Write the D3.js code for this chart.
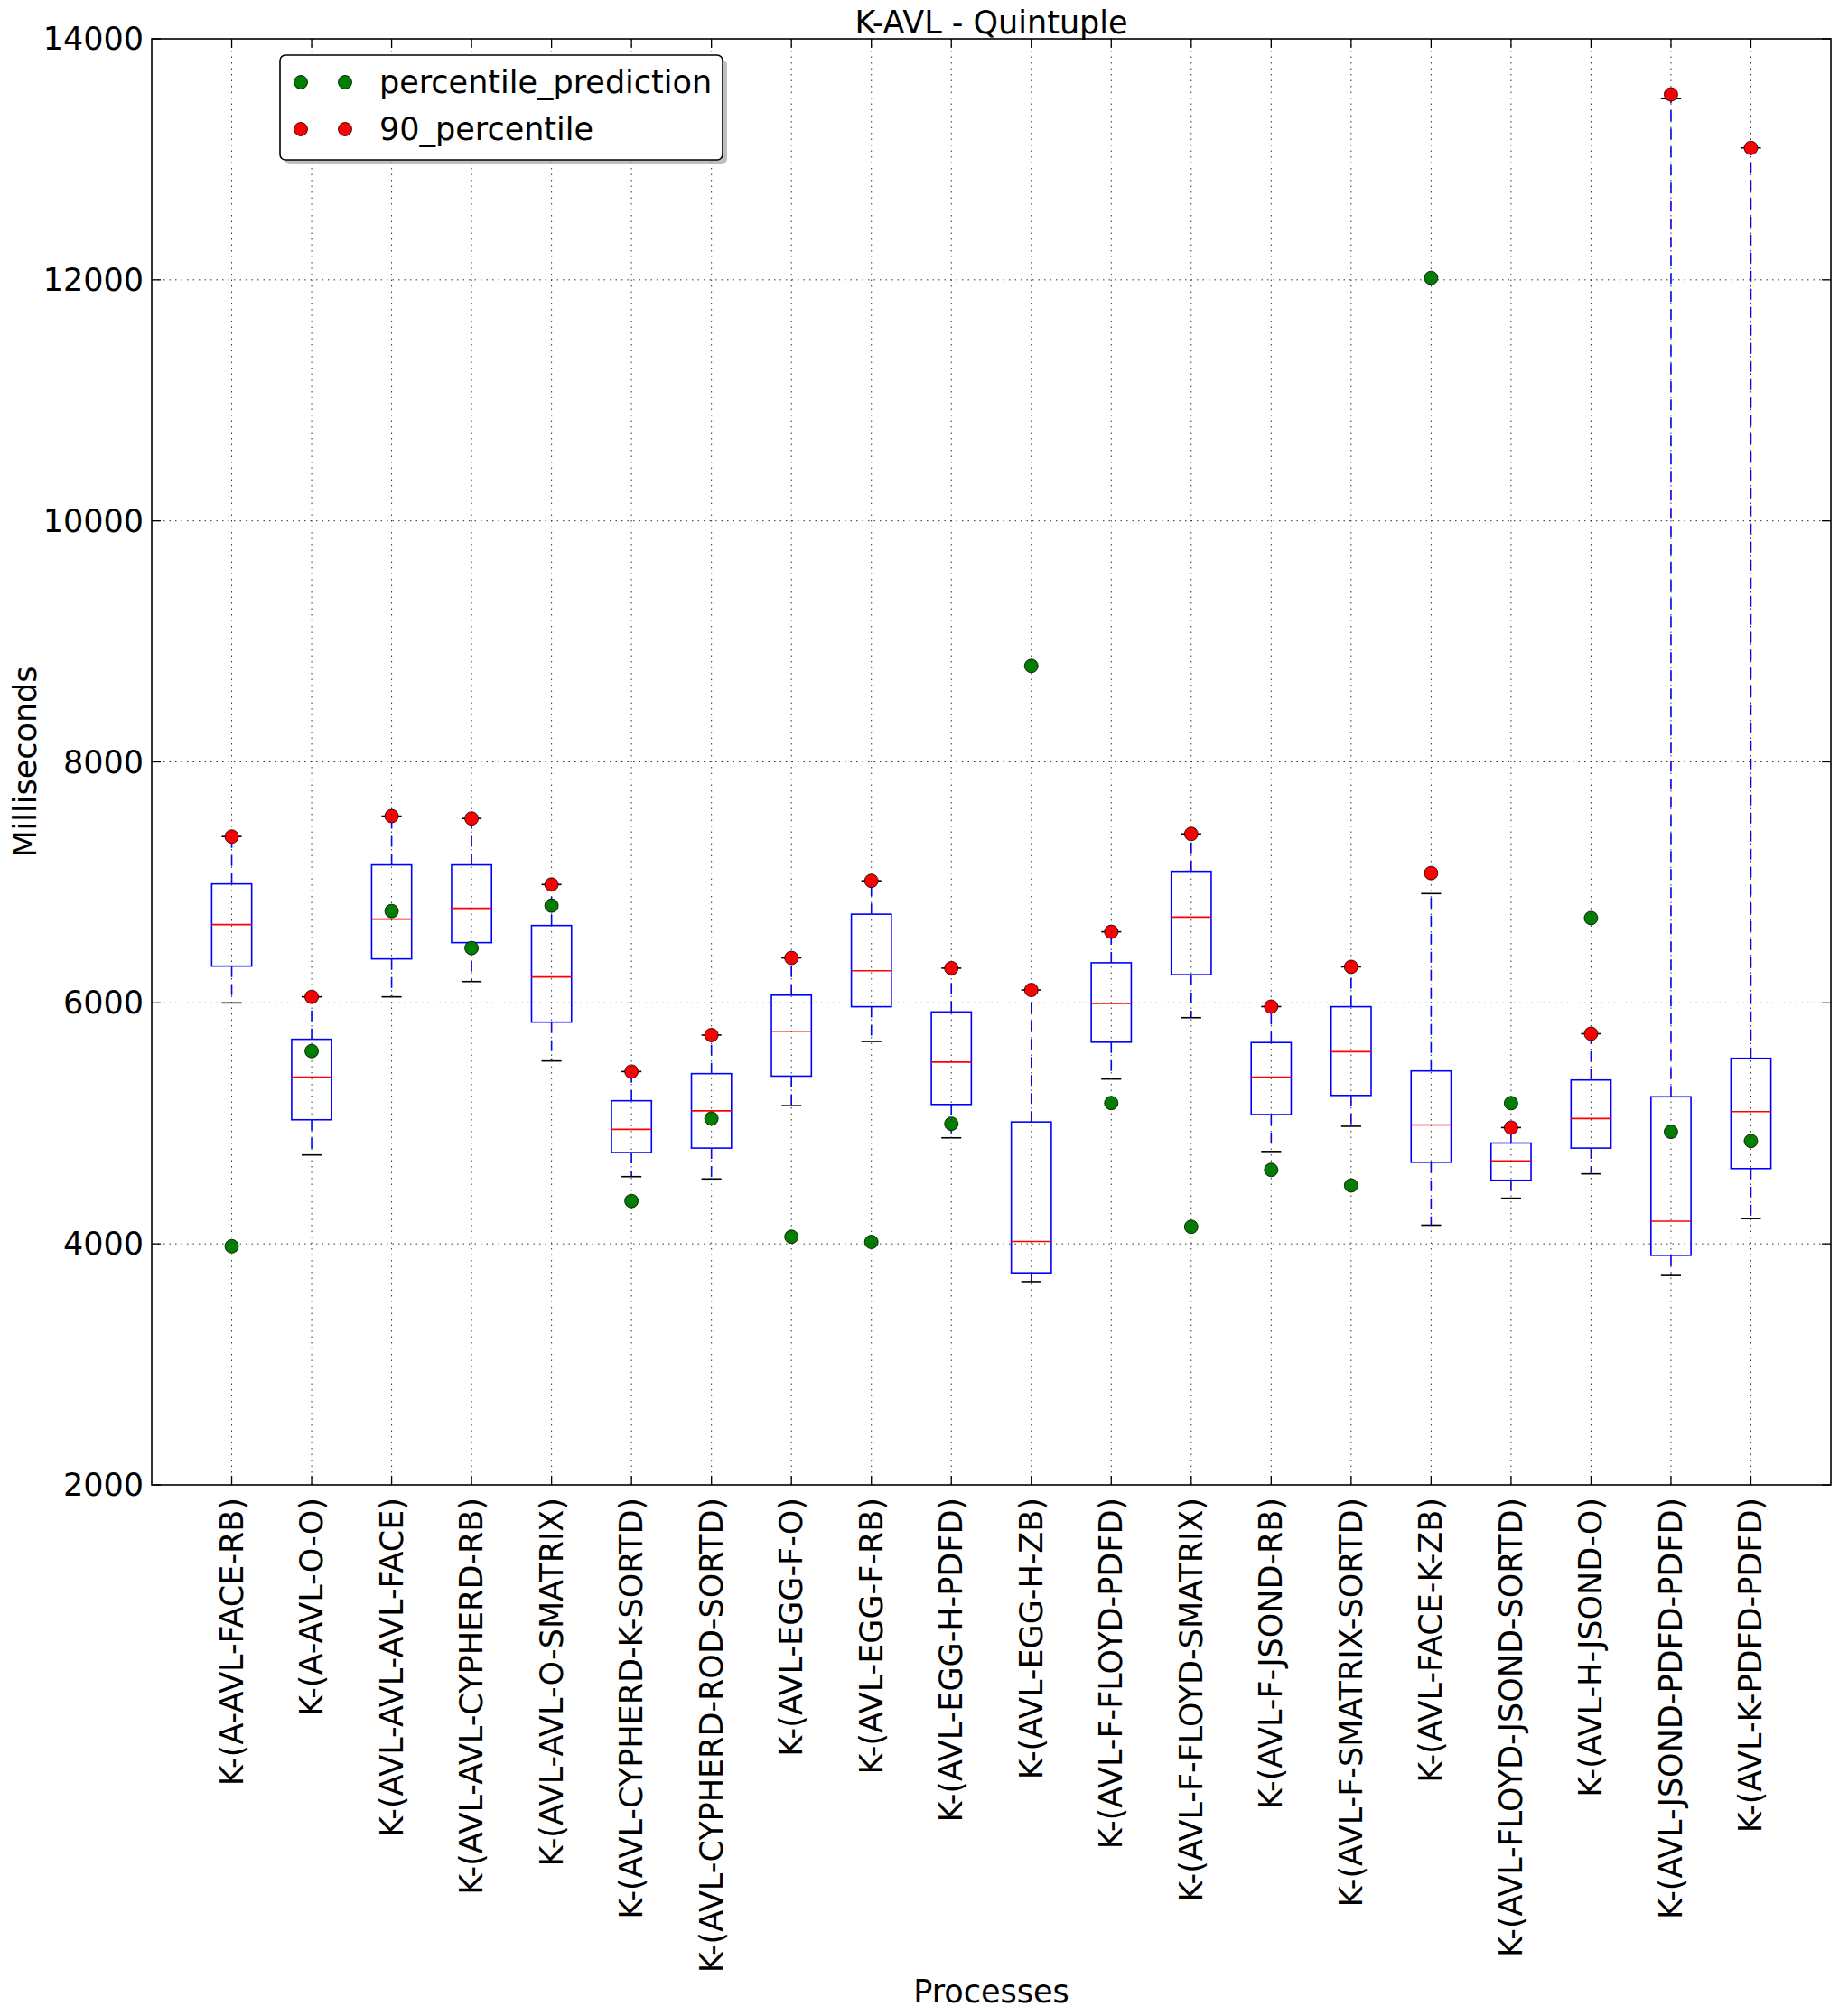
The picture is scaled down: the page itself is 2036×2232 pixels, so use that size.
<!DOCTYPE html>
<html><head><meta charset="utf-8">
<script src="https://cdn.jsdelivr.net/npm/d3@7"></script>
<style>body{margin:0;background:#fff}svg{display:block}text{font-family:"DejaVu Sans",sans-serif;fill:#000}</style>
</head><body><div id="chart"></div>
<script>
const categories = ["K-(A-AVL-FACE-RB)","K-(A-AVL-O-O)","K-(AVL-AVL-AVL-FACE)","K-(AVL-AVL-CYPHERD-RB)","K-(AVL-AVL-O-SMATRIX)","K-(AVL-CYPHERD-K-SORTD)","K-(AVL-CYPHERD-ROD-SORTD)","K-(AVL-EGG-F-O)","K-(AVL-EGG-F-RB)","K-(AVL-EGG-H-PDFD)","K-(AVL-EGG-H-ZB)","K-(AVL-F-FLOYD-PDFD)","K-(AVL-F-FLOYD-SMATRIX)","K-(AVL-F-JSOND-RB)","K-(AVL-F-SMATRIX-SORTD)","K-(AVL-FACE-K-ZB)","K-(AVL-FLOYD-JSOND-SORTD)","K-(AVL-H-JSOND-O)","K-(AVL-JSOND-PDFD-PDFD)","K-(AVL-K-PDFD-PDFD)"];
const whiskerLow = [6000,4738,6050,6177,5518,4558,4539,5147,5680,4880,3687,5368,5877,4767,4976,4155,4379,4581,3738,4210];
const q1 = [6305,5030,6365,6500,5840,4758,4795,5392,5968,5157,3760,5674,6234,5073,5232,4677,4528,4795,3905,4625];
const median = [6650,5383,6695,6785,6215,4950,5104,5765,6267,5509,4020,5996,6712,5383,5595,4987,4688,5040,4189,5097];
const q3 = [6987,5698,7145,7145,6642,5188,5413,6064,6736,5925,5012,6333,7092,5671,5968,5435,4837,5360,5221,5540];
const whiskerHigh = [7380,6050,7550,7530,6982,5430,5733,6373,7013,6288,6107,6590,7402,5969,6299,6907,4965,5744,13504,13095];
const percentile90 = [7380,6050,7550,7530,6982,5430,5733,6373,7013,6288,6107,6590,7402,5969,6299,7077,4965,5744,13539,13095];
const percentilePrediction = [3980,5600,6762,6455,6807,4356,5040,4059,4016,4997,8796,5169,4142,4614,4485,12016,5168,6704,4930,4854];
const yTicks = [2000,4000,6000,8000,10000,12000,14000];
const title = "K-AVL - Quintuple", xTitle = "Processes", yTitle = "Milliseconds";
const legendLabels = ["percentile_prediction","90_percentile"];

const W = 2036, H = 2232;
const L = 168, R = 2027, T = 43, B = 1644;
const FS = 35;
const svg = d3.select("#chart").append("svg").attr("width", W).attr("height", H);

const x = d3.scaleLinear().domain([0, categories.length + 1]).range([L, R]);
const y = d3.scaleLinear().domain([2000, 14000]).range([B, T]);
const step = x(1) - x(0);
const bw = step * 0.5, cw = step * 0.25;

const data = categories.map((c, i) => ({c, i, pos: i + 1, lo: whiskerLow[i], q1: q1[i], med: median[i], q3: q3[i], hi: whiskerHigh[i], p90: percentile90[i], pred: percentilePrediction[i]}));

const g = svg.append("g");
const bx = g.selectAll("g.box").data(data).join("g");
bx.append("line").attr("x1", d => x(d.pos)).attr("x2", d => x(d.pos))
  .attr("y1", d => y(d.q3)).attr("y2", d => y(d.hi))
  .attr("stroke", "#0000ff").attr("stroke-width", 1.6).attr("stroke-dasharray", "12,8");
bx.append("line").attr("x1", d => x(d.pos)).attr("x2", d => x(d.pos))
  .attr("y1", d => y(d.q1)).attr("y2", d => y(d.lo))
  .attr("stroke", "#0000ff").attr("stroke-width", 1.6).attr("stroke-dasharray", "12,8");
bx.append("line").attr("x1", d => x(d.pos) - cw/2).attr("x2", d => x(d.pos) + cw/2)
  .attr("y1", d => y(d.hi)).attr("y2", d => y(d.hi)).attr("stroke", "#000").attr("stroke-width", 1.6);
bx.append("line").attr("x1", d => x(d.pos) - cw/2).attr("x2", d => x(d.pos) + cw/2)
  .attr("y1", d => y(d.lo)).attr("y2", d => y(d.lo)).attr("stroke", "#000").attr("stroke-width", 1.6);
bx.append("rect").attr("x", d => x(d.pos) - bw/2).attr("width", bw)
  .attr("y", d => y(d.q3)).attr("height", d => y(d.q1) - y(d.q3))
  .attr("fill", "none").attr("stroke", "#0000ff").attr("stroke-width", 1.6);
bx.append("line").attr("x1", d => x(d.pos) - bw/2).attr("x2", d => x(d.pos) + bw/2)
  .attr("y1", d => y(d.med)).attr("y2", d => y(d.med)).attr("stroke", "#ff0000").attr("stroke-width", 1.6);

g.selectAll("circle.p90").data(data).join("circle")
  .attr("cx", d => x(d.pos)).attr("cy", d => y(d.p90)).attr("r", 7.5)
  .attr("fill", "#ff0000").attr("stroke", "#000").attr("stroke-width", 0.8);
g.selectAll("circle.pred").data(data).join("circle")
  .attr("cx", d => x(d.pos)).attr("cy", d => y(d.pred)).attr("r", 7.5)
  .attr("fill", "#007f00").attr("stroke", "#000").attr("stroke-width", 0.8);

const grid = svg.append("g").attr("stroke", "#333").attr("stroke-width", 1).attr("stroke-dasharray", "1.5,5");
grid.selectAll("line.v").data(data).join("line")
  .attr("x1", d => x(d.pos)).attr("x2", d => x(d.pos)).attr("y1", T).attr("y2", B);
grid.selectAll("line.h").data(yTicks.slice(1, -1)).join("line")
  .attr("x1", L).attr("x2", R).attr("y1", d => y(d)).attr("y2", d => y(d));

const tk = svg.append("g").attr("stroke", "#000").attr("stroke-width", 1.3);
data.forEach(d => {
  tk.append("line").attr("x1", x(d.pos)).attr("x2", x(d.pos)).attr("y1", B).attr("y2", B - 10);
  tk.append("line").attr("x1", x(d.pos)).attr("x2", x(d.pos)).attr("y1", T).attr("y2", T + 10);
});
yTicks.forEach(v => {
  tk.append("line").attr("x1", L).attr("x2", L + 10).attr("y1", y(v)).attr("y2", y(v));
  tk.append("line").attr("x1", R).attr("x2", R - 10).attr("y1", y(v)).attr("y2", y(v));
});

svg.append("rect").attr("x", L).attr("y", T).attr("width", R - L).attr("height", B - T)
  .attr("fill", "none").attr("stroke", "#000").attr("stroke-width", 1.6);

svg.selectAll("text.yt").data(yTicks).join("text")
  .attr("x", L - 9).attr("y", d => y(d)).attr("text-anchor", "end").attr("dominant-baseline", "central")
  .attr("font-size", FS).text(d => d);
svg.selectAll("text.xt").data(data).join("text")
  .attr("transform", d => `translate(${x(d.pos)},${B + 14}) rotate(-90)`)
  .attr("text-anchor", "end").attr("dominant-baseline", "central")
  .attr("font-size", FS).text(d => d.c);

svg.append("text").attr("x", (L + R) / 2).attr("y", T - 6).attr("text-anchor", "middle").attr("font-size", FS).text(title);
svg.append("text").attr("x", (L + R) / 2).attr("y", 2217).attr("text-anchor", "middle").attr("font-size", FS).text(xTitle);
svg.append("text").attr("transform", `translate(40,${(T + B) / 2}) rotate(-90)`).attr("text-anchor", "middle").attr("font-size", FS).text(yTitle);

const lg = svg.append("g").attr("transform", "translate(310,61)");
lg.append("rect").attr("x", 5).attr("y", 5).attr("width", 490).attr("height", 116).attr("rx", 6).attr("fill", "#808080").attr("opacity", 0.5);
lg.append("rect").attr("width", 490).attr("height", 116).attr("rx", 6).attr("fill", "#fff").attr("stroke", "#000").attr("stroke-width", 1.6);
const lcol = ["#007f00", "#ff0000"];
legendLabels.forEach((t, i) => {
  const cy = 30 + i * 52;
  [23, 72].forEach(cx => lg.append("circle").attr("cx", cx).attr("cy", cy).attr("r", 7.5).attr("fill", lcol[i]).attr("stroke", "#000").attr("stroke-width", 0.8));
  lg.append("text").attr("x", 110).attr("y", cy).attr("dominant-baseline", "central").attr("font-size", FS).text(t);
});
</script></body></html>
